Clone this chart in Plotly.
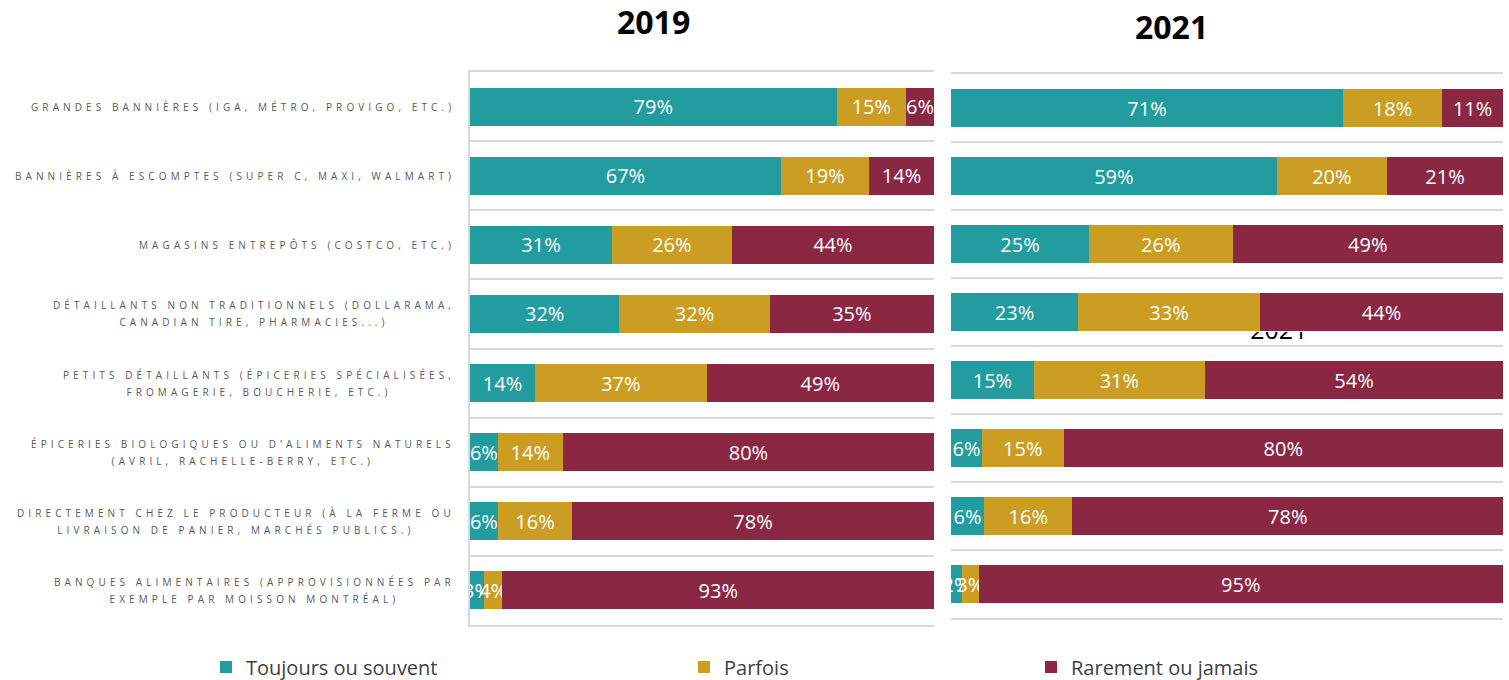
import plotly.graph_objects as go

W, H = 1509, 680


def px(x):
    return x / W


def py(y):
    return (H - y) / H


categories = [
    "GRANDES BANNIÈRES (IGA, MÉTRO, PROVIGO, ETC.)",
    "BANNIÈRES À ESCOMPTES (SUPER C, MAXI, WALMART)",
    "MAGASINS ENTREPÔTS (COSTCO, ETC.)",
    "DÉTAILLANTS NON TRADITIONNELS (DOLLARAMA,<br>CANADIAN TIRE, PHARMACIES...)",
    "PETITS DÉTAILLANTS (ÉPICERIES SPÉCIALISÉES,<br>FROMAGERIE, BOUCHERIE, ETC.)",
    "ÉPICERIES BIOLOGIQUES OU D’ALIMENTS NATURELS<br>(AVRIL, RACHELLE-BERRY, ETC.)",
    "DIRECTEMENT CHEZ LE PRODUCTEUR (À LA FERME OU<br>LIVRAISON DE PANIER, MARCHÉS PUBLICS.)",
    "BANQUES ALIMENTAIRES (APPROVISIONNÉES PAR<br>EXEMPLE PAR MOISSON MONTRÉAL)",
]

series_names = ["Toujours ou souvent", "Parfois", "Rarement ou jamais"]

toujours_2019 = [79, 67, 30.6, 32.2, 14, 6, 6, 3]
parfois_2019 = [15, 19, 25.8, 32.4, 37, 14, 16, 4]
rarement_2019 = [6, 14, 43.6, 35.4, 49, 80, 78, 93]

toujours_2021 = [71, 59, 25, 23, 15, 5.6, 6, 2]
parfois_2021 = [18, 20, 26, 33, 31, 14.8, 16, 3]
rarement_2021 = [11, 21, 49, 44, 54, 79.6, 78, 95]

years = ["2019", "2021"]
colors = ["#229c9f", "#cb9e23", "#8a2844"]

positions = list(range(len(categories)))

fig = go.Figure()

data = {
    "2019": [toujours_2019, parfois_2019, rarement_2019],
    "2021": [toujours_2021, parfois_2021, rarement_2021],
}
axes = {"2019": ("x", "y"), "2021": ("x2", "y2")}
legends = ["legend", "legend2", "legend3"]

for year in years:
    xa, ya = axes[year]
    for i, name in enumerate(series_names):
        fig.add_trace(go.Bar(
            y=positions, x=data[year][i], orientation="h",
            name=name, marker=dict(color=colors[i], line=dict(width=0)),
            texttemplate="%{x:.0f}%", textposition="inside", textangle=0,
            insidetextanchor="middle", constraintext="none",
            textfont=dict(color="white", size=20, family="Open Sans"),
            xaxis=xa, yaxis=ya,
            showlegend=(year == "2019"), legend=legends[i],
            cliponaxis=True, hoverinfo="skip",
        ))

# stray, partially hidden "2021" text present in the original picture
fig.add_trace(go.Scatter(
    x=[0.37], y=[0.93], mode="text", text=["2021"],
    textposition="middle center",
    textfont=dict(size=25, color="black", family="Open Sans"),
    xaxis="x3", yaxis="y3", showlegend=False, cliponaxis=True,
    hoverinfo="skip",
))

grid = "#d9d9d9"
axis_common = dict(showticklabels=False, zeroline=False, showgrid=False, ticks="",
                   showline=True, mirror=True, linecolor=grid, linewidth=2)
yaxis_common = dict(showticklabels=False, zeroline=False, ticks="",
                    tickmode="linear", tick0=-0.5, dtick=1,
                    showgrid=True, gridcolor=grid, gridwidth=2)

fig.update_layout(
    width=W, height=H,
    margin=dict(l=0, r=0, t=0, b=0, autoexpand=False),
    paper_bgcolor="white", plot_bgcolor="rgba(0,0,0,0)",
    barmode="stack", bargap=0.45,
    xaxis=dict(domain=[px(470), px(934)], range=[0, 100], **axis_common),
    yaxis=dict(domain=[py(625), py(72)], range=[7.5, -0.5],
               showline=True, linecolor=grid, linewidth=2, **yaxis_common),
    xaxis2=dict(domain=[px(951), px(1503)], range=[0, 100], anchor="y2", **axis_common),
    yaxis2=dict(domain=[py(618), py(74)], range=[7.5, -0.5],
                anchor="x2", showline=False, **yaxis_common),
    xaxis3=dict(domain=[px(1240), px(1345)], range=[0, 1], anchor="y3", visible=False),
    yaxis3=dict(domain=[py(347), py(332)], range=[0, 1], anchor="x3", visible=False),
    showlegend=True,
    font=dict(family="Open Sans"),
)

legend_style = dict(orientation="h", yanchor="middle", y=py(667), xanchor="left",
                    font=dict(size=20, color="#404040", family="Open Sans"),
                    bgcolor="rgba(0,0,0,0)", itemwidth=30)
fig.update_layout(
    legend=dict(x=px(206), **legend_style),
    legend2=dict(x=px(684), **legend_style),
    legend3=dict(x=px(1031), **legend_style),
)

# category labels (each line in a 10px span; the 12.8px annotation font sets line spacing)
for i, cat in enumerate(categories):
    lines = cat.split("<br>")
    styled = "<br>".join(
        f"<span style='font-size:10px;letter-spacing:4.1px'>{ln}</span>" for ln in lines
    )
    fig.add_annotation(
        x=px(457), xref="paper", y=positions[i], yref="y",
        xanchor="right", yanchor="middle", align="center", showarrow=False,
        text=styled,
        font=dict(size=12.8, color="#595959", family="Open Sans"),
    )

# panel titles
fig.add_annotation(x=px(653), xref="paper", y=py(22), yref="paper",
                   text="<b>2019</b>", showarrow=False, yanchor="middle",
                   font=dict(size=32, color="black", family="Open Sans"))
fig.add_annotation(x=px(1210), xref="paper", y=py(27), yref="paper",
                   text="<b>2021</b>", showarrow=False, yanchor="middle",
                   font=dict(size=32, color="black", family="Open Sans"))

fig.write_html(
    "out.html",
    config={"displayModeBar": False},
    post_script="document.documentElement.style.margin='0';"
                "document.body.style.margin='0';"
                "document.body.style.overflow='hidden';",
)
